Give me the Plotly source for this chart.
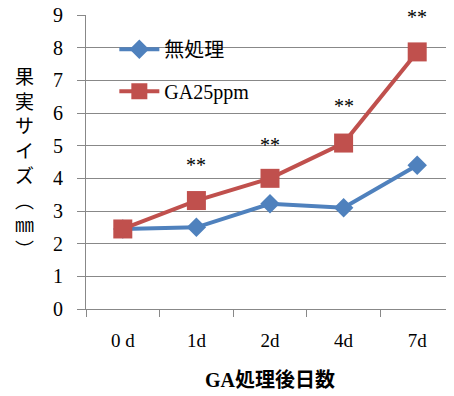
import plotly.graph_objects as go

categories = ["0 d", "1d", "2d", "4d", "7d"]
control = [2.45, 2.5, 3.22, 3.1, 4.4]
ga25 = [2.45, 3.32, 4.0, 5.08, 7.87]
sig_cats = ["1d", "2d", "4d", "7d"]
sig_label_y = [4.4, 5.02, 6.2, 9.0]
y_title_chars = ["果", "実", "サ", "イ", "ズ", "︵", "㎜", "︶"]

serif = "Liberation Serif, DejaVu Serif, Noto Sans CJK JP, serif"
jp = "Liberation Serif, Noto Sans CJK JP, serif"

fig = go.Figure()
fig.add_trace(go.Scatter(x=categories, y=control, name="無処理", mode="lines+markers",
                         legendgroup="a",
                         line=dict(color="#4F81BD", width=4),
                         marker=dict(symbol="diamond", size=15, color="#4F81BD")))
fig.add_trace(go.Scatter(x=categories, y=ga25, name="GA25ppm", mode="lines+markers",
                         legendgroup="b",
                         line=dict(color="#C0504D", width=4),
                         marker=dict(symbol="square", size=19, color="#C0504D")))

for c, y in zip(sig_cats, sig_label_y):
    fig.add_annotation(x=c, y=y, text="**", showarrow=False, yanchor="middle",
                       yshift=(-2 if y >= 9 else 0),
                       font=dict(family=serif, size=20, color="black"))

fig.add_annotation(xref="paper", yref="paper", x=-0.166, y=0.50,
                   text="<br>".join(y_title_chars), showarrow=False,
                   font=dict(family="Noto Sans CJK JP", size=19, color="black"),
                   xanchor="center", yanchor="middle")

fig.update_layout(
    width=446, height=388,
    margin=dict(l=78, r=0, t=7, b=87, autoexpand=False),
    paper_bgcolor="white", plot_bgcolor="white",
    showlegend=True,
    legend=dict(x=0.077, y=0.95, xanchor="left", yanchor="top",
                font=dict(family=jp, size=20, color="black"),
                bgcolor="rgba(0,0,0,0)", itemwidth=40, tracegroupgap=13),
    xaxis=dict(type="category", showgrid=False, showline=True, linecolor="#888888",
               linewidth=1, ticks="outside", tickson="boundaries", ticklen=7,
               tickcolor="#888888", tickfont=dict(family=serif, size=19, color="black"),
               ticklabelstandoff=14,
               title=dict(text="<b>GA処理後日数</b>", font=dict(family=jp, size=20, color="black"),
                          standoff=23),
               range=[-0.5, 4.5], automargin=False),
    yaxis=dict(range=[0, 9], dtick=1, showgrid=True, gridcolor="#888888", gridwidth=1,
               showline=True, linecolor="#888888", ticks="outside", ticklen=8,
               tickcolor="#888888", tickfont=dict(family=serif, size=20, color="black"),
               ticklabelstandoff=10, ticklabeloverflow="allow",
               zeroline=False, automargin=False),
)

fig.write_html("out.html")
